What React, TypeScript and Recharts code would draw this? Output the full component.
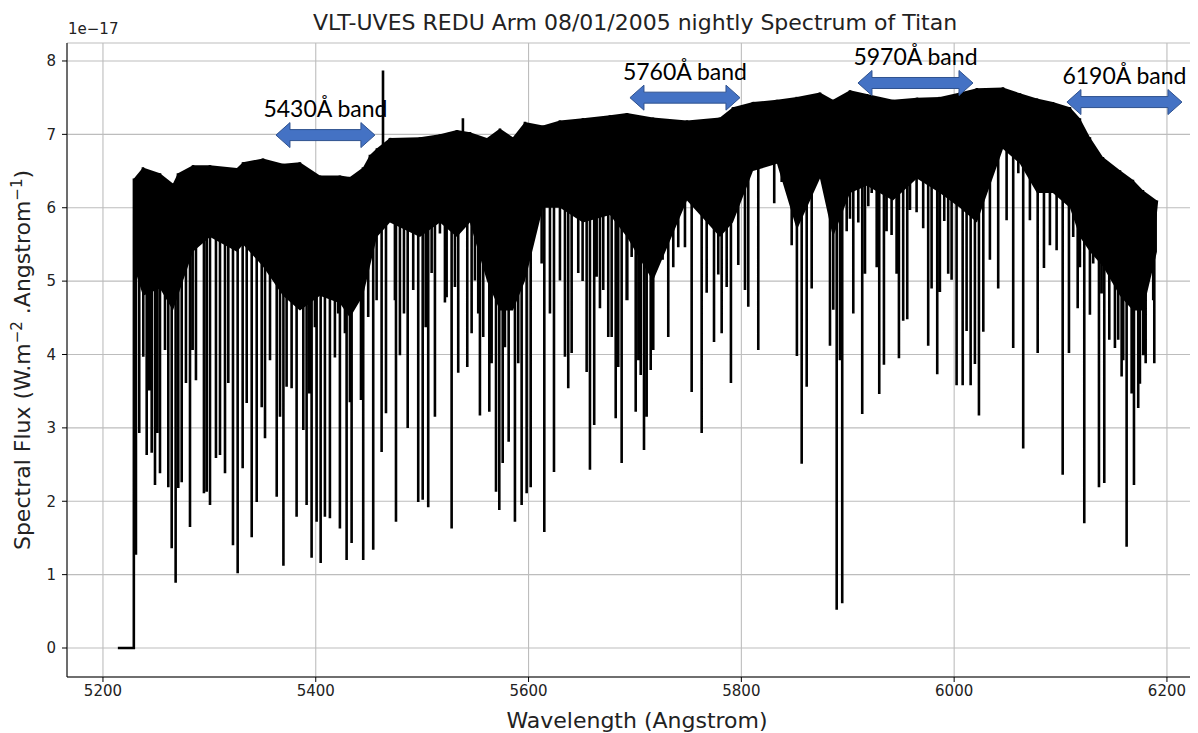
import React from "react";
import {
  ComposedChart,
  Area,
  Line,
  XAxis,
  YAxis,
  CartesianGrid,
  ReferenceLine,
} from "recharts";

// continuum of the spectrum (upper edge) and lower edge of the solid black band
const envWl = [5229.1, 5237.6, 5253.6, 5265.8, 5270.5, 5284.6, 5300.6, 5325.9, 5331.6, 5350.4, 5369.2, 5385.1, 5403.9, 5422.7, 5432.1, 5444.4, 5450.9, 5457.5, 5469.7, 5497.9, 5516.7, 5532.7, 5544.9, 5560.9, 5573.1, 5585.3, 5596.6, 5613.5, 5629.5, 5651.1, 5676.5, 5692.5, 5716.9, 5748.9, 5779.9, 5792.1, 5810.9, 5833.5, 5852.2, 5873.9, 5886.1, 5902.1, 5918.0, 5942.5, 5965.0, 5986.6, 6005.4, 6021.4, 6045.9, 6061.8, 6077.8, 6092.8, 6108.8, 6118.2, 6127.6, 6139.8, 6155.8, 6168.0, 6177.4, 6190.6];
const envHi = [6.4, 6.55, 6.47, 6.33, 6.47, 6.58, 6.58, 6.54, 6.62, 6.67, 6.6, 6.62, 6.44, 6.44, 6.42, 6.55, 6.72, 6.81, 6.95, 6.96, 7.0, 7.06, 7.03, 6.95, 7.08, 6.96, 7.17, 7.12, 7.19, 7.22, 7.26, 7.29, 7.23, 7.19, 7.23, 7.37, 7.44, 7.47, 7.51, 7.57, 7.47, 7.6, 7.55, 7.47, 7.5, 7.51, 7.57, 7.63, 7.64, 7.56, 7.49, 7.44, 7.37, 7.22, 6.96, 6.69, 6.51, 6.38, 6.24, 6.1];
const envLo = [5.2, 4.8, 4.9, 4.6, 4.8, 5.4, 5.6, 5.4, 5.5, 5.2, 4.8, 4.6, 4.8, 4.7, 4.5, 4.8, 5.2, 5.6, 5.8, 5.6, 5.8, 5.6, 5.8, 5.0, 4.6, 4.6, 5.0, 6.0, 6.0, 5.8, 5.9, 5.6, 5.0, 6.1, 5.6, 5.8, 6.5, 6.6, 5.7, 6.4, 5.6, 6.2, 6.3, 6.1, 6.4, 6.2, 6.0, 5.8, 6.8, 6.6, 6.2, 6.2, 6.0, 5.6, 5.4, 5.2, 4.8, 4.6, 4.6, 5.4];

// strong absorption lines: wavelength and bottom of the line
const dipWl = [5231.0, 5241.1, 5245.8, 5248.9, 5253.6, 5264.6, 5268.3, 5274.0, 5281.8, 5287.4, 5297.5, 5300.6, 5306.2, 5314.7, 5322.2, 5326.6, 5331.3, 5339.8, 5344.5, 5352.3, 5363.3, 5369.6, 5377.3, 5382.0, 5388.3, 5391.4, 5396.1, 5400.8, 5404.6, 5408.6, 5413.3, 5418.0, 5422.7, 5429.0, 5432.1, 5433.7, 5439.9, 5444.6, 5454.0, 5461.9, 5466.0, 5475.4, 5479.1, 5486.4, 5491.6, 5496.3, 5500.5, 5505.7, 5512.0, 5521.4, 5527.7, 5533.9, 5542.4, 5546.5, 5554.3, 5557.4, 5563.1, 5569.4, 5572.5, 5575.7, 5581.3, 5587.2, 5593.5, 5598.2, 5602.0, 5614.8, 5623.9, 5637.3, 5640.5, 5654.6, 5657.7, 5661.7, 5667.1, 5674.9, 5681.9, 5687.5, 5692.8, 5700.7, 5705.4, 5708.5, 5714.8, 5726.0, 5731.3, 5740.7, 5747.0, 5753.3, 5762.7, 5774.3, 5781.5, 5790.2, 5797.1, 5806.5, 5815.9, 5830.9, 5837.9, 5847.3, 5852.2, 5856.7, 5861.4, 5866.1, 5872.3, 5877.0, 5883.3, 5889.6, 5892.7, 5894.8, 5899.0, 5905.2, 5909.9, 5913.6, 5919.3, 5927.2, 5929.6, 5934.0, 5941.2, 5948.1, 5952.1, 5955.9, 5964.7, 5975.6, 5984.1, 5990.7, 5997.6, 6002.3, 6008.0, 6015.5, 6023.3, 6027.4, 6041.4, 6055.5, 6064.9, 6078.5, 6084.4, 6090.0, 6096.3, 6102.0, 6107.9, 6116.1, 6122.3, 6127.6, 6136.1, 6141.1, 6145.8, 6151.1, 6157.4, 6162.1, 6169.0, 6173.0, 6180.0, 6188.1];
const dipLow = [1.27, 2.63, 2.66, 2.22, 2.38, 1.36, 0.89, 2.26, 1.65, 3.65, 2.13, 1.95, 2.59, 2.38, 1.4, 1.02, 2.45, 1.51, 1.99, 2.86, 2.06, 1.12, 3.54, 1.79, 2.97, 1.95, 1.23, 1.72, 1.16, 1.79, 1.77, 3.96, 1.63, 1.2, 3.35, 1.43, 4.84, 1.2, 1.34, 2.67, 3.2, 1.72, 3.99, 3.0, 4.88, 1.99, 2.02, 1.92, 3.15, 4.71, 1.63, 3.75, 3.83, 4.29, 3.17, 4.24, 3.22, 2.13, 1.88, 2.52, 2.81, 1.72, 1.95, 2.11, 2.19, 1.58, 2.4, 3.54, 4.02, 3.76, 2.43, 3.04, 4.63, 4.24, 3.13, 2.52, 4.74, 3.22, 3.72, 2.7, 3.79, 5.29, 4.24, 5.46, 5.46, 3.49, 2.93, 4.17, 4.29, 3.61, 5.22, 4.65, 4.06, 6.06, 6.35, 5.49, 3.98, 2.51, 3.56, 4.9, 6.55, 6.58, 4.12, 0.52, 3.92, 0.61, 5.68, 4.56, 5.8, 3.19, 6.02, 5.19, 3.46, 3.86, 5.63, 3.95, 4.46, 4.48, 5.94, 4.12, 3.73, 5.82, 5.02, 3.58, 3.58, 3.58, 3.17, 4.31, 4.9, 4.09, 2.72, 4.02, 5.18, 5.49, 5.42, 2.36, 4.02, 4.63, 1.7, 4.54, 2.19, 2.25, 4.2, 4.09, 3.7, 1.38, 2.22, 3.27, 3.88, 3.88];

// weaker lines filling the forest below the continuum
const weakWl = [5234.1, 5237.9, 5243.5, 5251.0, 5258.3, 5261.4, 5270.8, 5278.0, 5284.3, 5294.9, 5310.0, 5317.8, 5335.1, 5349.2, 5357.0, 5366.4, 5372.6, 5386.7, 5393.9, 5399.2, 5411.7, 5421.1, 5427.4, 5442.5, 5449.3, 5457.2, 5474.4, 5482.9, 5503.3, 5508.9, 5516.7, 5523.0, 5530.8, 5549.6, 5552.7, 5565.3, 5577.8, 5584.1, 5590.3, 5604.4, 5612.3, 5620.1, 5629.5, 5634.2, 5646.7, 5650.8, 5664.0, 5670.2, 5678.1, 5684.3, 5692.2, 5696.9, 5703.2, 5711.0, 5717.2, 5736.0, 5758.0, 5767.4, 5772.1, 5778.3, 5786.2, 5803.4, 5828.6, 5886.4, 5902.1, 5916.2, 5922.5, 5936.5, 5945.9, 5958.5, 5970.9, 5978.8, 5986.6, 5994.4, 6011.7, 6019.5, 6033.6, 6049.3, 6060.3, 6071.2, 6111.9, 6118.2, 6130.7, 6138.6, 6154.2, 6158.9, 6166.8, 6174.6, 6177.7, 6184.0, 6187.1];
const weakLow = [2.93, 3.97, 3.51, 2.93, 4.06, 2.19, 2.18, 3.61, 4.06, 2.11, 2.63, 3.61, 3.34, 3.28, 3.92, 3.15, 3.56, 4.84, 3.47, 4.37, 5.01, 4.56, 4.29, 3.38, 4.51, 4.74, 4.74, 4.56, 4.37, 5.11, 5.65, 4.78, 4.92, 5.01, 4.56, 3.88, 4.1, 5.11, 3.88, 6.24, 5.24, 4.56, 5.01, 3.97, 5.11, 5.0, 5.06, 4.88, 4.24, 3.83, 4.74, 5.33, 3.92, 3.15, 4.06, 5.19, 6.42, 4.84, 5.83, 5.09, 4.92, 4.88, 6.69, 4.61, 5.85, 5.1, 6.2, 5.68, 5.1, 5.97, 5.72, 4.9, 4.85, 5.1, 4.32, 3.87, 5.29, 5.83, 6.47, 5.83, 5.6, 5.19, 5.24, 4.83, 4.2, 3.92, 3.47, 3.6, 3.99, 5.11, 4.74];

// emission spikes above the continuum
const peakWl = [5463.2, 5538.3];
const peakHigh = [7.87, 7.22];

// detector gap before the spectrum starts
const zeroWl = [5214, 5229];

const xTicks = [5200, 5400, 5600, 5800, 6000, 6200];
const yTicks = [0, 1, 2, 3, 4, 5, 6, 7, 8];

const bandLabels = ["5430Å band", "5760Å band", "5970Å band", "6190Å band"];
const bandFrom = [5362.6, 5695.3, 5909.6, 6106.0];
const bandTo = [5455.6, 5798.7, 6017.7, 6214.1];
const bandLevel = [6.99, 7.5, 7.7, 7.44];

type Row = { w: number; spec: number; core?: [number, number] };

function anchorAt(w: number) {
  let best = 0;
  envWl.forEach((e, i) => {
    if (Math.abs(e - w) < Math.abs(envWl[best] - w)) best = i;
  });
  return (envLo[best] + envHi[best]) / 2;
}

const rows: Row[] = [];
zeroWl.forEach((w) => rows.push({ w, spec: 0 }));
envWl.forEach((w, i) => rows.push({ w, spec: envHi[i], core: [envLo[i], envHi[i]] }));
const addSpike = (w: number, v: number) => {
  const a = anchorAt(w);
  rows.push({ w, spec: a }, { w, spec: v }, { w, spec: a });
};
dipWl.forEach((w, i) => addSpike(w, dipLow[i]));
weakWl.forEach((w, i) => addSpike(w, weakLow[i]));
peakWl.forEach((w, i) => addSpike(w, peakHigh[i]));
const chartData = rows.sort((a, b) => a.w - b.w);

const font = "'DejaVu Sans', sans-serif";
const tickStyle = { fontSize: 15, fill: "#222", fontFamily: font };

function BandArrow(props: any) {
  const { x1, x2, y1, label } = props;
  const y = y1;
  const H = 14;
  const hh = 12.5;
  const hs = 5.5;
  const pts = [
    [x1, y],
    [x1 + H, y - hh],
    [x1 + H, y - hs],
    [x2 - H, y - hs],
    [x2 - H, y - hh],
    [x2, y],
    [x2 - H, y + hh],
    [x2 - H, y + hs],
    [x1 + H, y + hs],
    [x1 + H, y + hh],
  ]
    .map((p) => p.join(","))
    .join(" ");
  return (
    <g>
      <polygon points={pts} fill="#4472C4" stroke="#2F528F" strokeWidth={1} />
      <text
        x={(x1 + x2) / 2}
        y={y - 27}
        textAnchor="middle"
        dominantBaseline="central"
        fontFamily="Lato, 'Open Sans', sans-serif"
        fontSize={23}
        fill="#000"
      >
        {label}
      </text>
    </g>
  );
}

export default function App() {
  return (
    <div style={{ position: "relative", width: 1190, height: 725, overflow: "hidden", background: "#fff" }}>
      <div
        style={{
          position: "absolute",
          left: 627,
          top: 4,
          lineHeight: 1,
          transform: "translateX(-50%)",
          whiteSpace: "nowrap",
          fontFamily: font,
          fontSize: 22,
          color: "#222",
        }}
      >
        VLT-UVES REDU Arm 08/01/2005 nightly Spectrum of Titan
      </div>
      <div style={{ position: "absolute", left: 60, top: 14, lineHeight: 1, fontFamily: font, fontSize: 15, color: "#222" }}>
        1e−17
      </div>
      <div
        style={{
          position: "absolute",
          left: 14,
          top: 352,
          lineHeight: 1,
          transform: "translate(-50%, -50%) rotate(-90deg)",
          whiteSpace: "nowrap",
          fontFamily: font,
          fontSize: 22,
          color: "#222",
        }}
      >
        Spectral Flux (W.m<sup style={{ fontSize: 15 }}>−2</sup> .Angstrom<sup style={{ fontSize: 15 }}>−1</sup>)
      </div>
      <div
        style={{
          position: "absolute",
          left: 629,
          top: 702,
          lineHeight: 1,
          transform: "translateX(-50%)",
          whiteSpace: "nowrap",
          fontFamily: font,
          fontSize: 22,
          color: "#222",
        }}
      >
        Wavelength (Angstrom)
      </div>
      <ComposedChart
        width={1200}
        height={725}
        data={chartData}
        margin={{ top: 35, right: 2, left: 0, bottom: 26 }}
      >
        <CartesianGrid stroke="#bdbdbd" strokeWidth={1.1} />
        <XAxis
          type="number"
          dataKey="w"
          domain={[5166.2, 6236.7]}
          ticks={xTicks}
          allowDataOverflow
          height={30}
          tickSize={5}
          tickMargin={3}
          tick={tickStyle}
          stroke="#000"
        />
        <XAxis
          xAxisId="top"
          orientation="top"
          type="number"
          domain={[5166.2, 6236.7]}
          height={0}
          tick={false}
          tickLine={false}
          stroke="#000"
        />
        <YAxis
          type="number"
          domain={[-0.395, 8.245]}
          ticks={yTicks}
          allowDataOverflow
          width={59}
          tickSize={5}
          tickMargin={6}
          tick={tickStyle}
          stroke="#000"
        />
        <Area
          dataKey="core"
          type="linear"
          fill="#000"
          fillOpacity={1}
          stroke="none"
          connectNulls
          isAnimationActive={false}
        />
        <Line
          dataKey="spec"
          type="linear"
          stroke="#000"
          strokeWidth={2.6}
          dot={false}
          activeDot={false}
          isAnimationActive={false}
        />
        {bandLabels.map((label, i) => (
          <ReferenceLine
            key={label}
            ifOverflow="visible"
            segment={[
              { x: bandFrom[i], y: bandLevel[i] },
              { x: bandTo[i], y: bandLevel[i] },
            ]}
            shape={(p: any) => <BandArrow {...p} label={label} />}
          />
        ))}
      </ComposedChart>
    </div>
  );
}
